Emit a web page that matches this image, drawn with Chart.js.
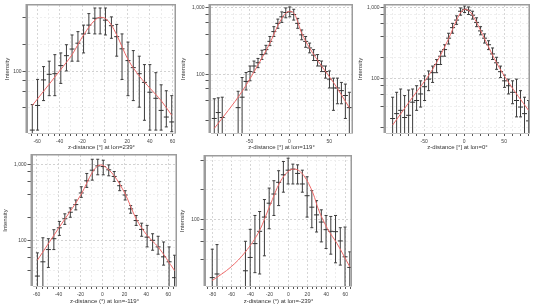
<!DOCTYPE html>
<html>
<head>
<meta charset="utf-8">
<script src="https://cdn.jsdelivr.net/npm/chart.js@4.4.1/dist/chart.umd.min.js"></script>
<style>
  html, body { margin: 0; padding: 0; background: #fff; }
  body { width: 535px; height: 307px; position: relative; overflow: hidden; }
  canvas { position: absolute; }
</style>
</head>
<body>
<canvas id="p1"></canvas>
<canvas id="p2"></canvas>
<canvas id="p3"></canvas>
<canvas id="p4"></canvas>
<canvas id="p5"></canvas>
<script>
// lon=239
const p1X = [-64.3, -59.6, -54.3, -49.3, -44.3, -39, -34, -29, -23.8, -18.8, -14.1, -8.8, -4.1, 0.6, 5.9, 10.6, 15.3, 20.6, 25.3, 30.6, 35.2, 40, 45.3, 50, 54.6, 59.4];
const p1Y = [22.3, 42, 81, 93.5, 95, 117, 151, 179, 208, 264, 331, 395, 399, 376, 326, 246, 180, 133, 111, 95, 76, 59, 50.5, 37, 31.2, 27.5];
const p1Hi = [43, 82, 114, 131, 155, 162, 200, 257, 280, 331, 445, 514, 514, 514, 409, 337, 264, 214, 172, 149, 120, 120, 97.5, 71.4, 61.3, 54];
const p1Lo = [10, 22.3, 47.6, 54, 54, 74, 102, 131, 131, 162, 268, 264, 264, 257, 236, 149, 82, 54, 47.6, 40.2, 28.7, 22.3, 22.3, 22.3, 24.2, 21.4];
const p1FitX = [-64.3, -49.3, -39, -29, -18.8, -8.8, -4.1, 0.6, 5.9, 10.6, 20.6, 30.6, 40, 50, 59.4];
const p1FitY = [42, 72.6, 106, 155, 257, 376, 404, 392, 331, 257, 137, 89.6, 65.6, 47.6, 32.6];

// lon=119
const p2X = [-94.6, -89.6, -84.6, -64.6, -59.6, -54.6, -49.6, -44.6, -39.6, -34.6, -29.6, -24.6, -19.6, -14.6, -9.6, -4.6, 0.4, 5.4, 10.4, 15.4, 20.4, 25.4, 30.4, 35.4, 40.4, 45.4, 50.4, 55.4, 60.4, 65.4, 70.4, 75.4];
const p2Y = [21.5, 26.4, 22.2, 31.3, 45, 77.8, 109.6, 133, 149, 198, 235, 313, 440, 585, 735, 853, 872, 796, 585, 393, 313, 249, 194, 161, 133, 109.6, 84.3, 62, 62, 56.5, 47.7, 31.3];
const p2Hi = [42.6, 44, 45, 55.3, 89.2, 106, 133, 158, 173, 230, 273, 371, 522, 679, 872, 1000, 1035, 955, 695, 466, 371, 295, 235, 198, 158, 133, 112, 87.3, 87.3, 75.2, 71, 53.4];
const p2Lo = [10, 10, 10, 10, 10, 57.8, 79.6, 106, 125.6, 167, 203, 270, 371, 493, 605, 710, 735, 656, 493, 331, 255, 210, 161, 133, 109.6, 87.3, 62, 28.5, 35.8, 35.8, 21.5, 10];
const p2FitX = [-94.6, -59.6, -39.6, -24.6, -14.6, -6.3, 0.4, 7.1, 15.4, 25.4, 40.4, 55.4, 75.4];
const p2FitY = [15.2, 55, 138, 295, 541, 796, 892, 778, 416, 249, 133, 75.2, 31.3];

// lon=0
const p3X = [-89.5, -84.5, -79.5, -74.5, -69.5, -64.5, -59.5, -54.5, -49.5, -44.5, -39.5, -34.5, -29.5, -24.5, -19.5, -14.5, -9.5, -4.5, 0.5, 5.5, 10.5, 15.5, 20.5, 25.5, 30.5, 35.5, 40.5, 45.5, 50.5, 55.5, 60.5, 65.5, 70.5, 75.5, 80.5];
const p3Y = [27.1, 31.8, 35.4, 28, 30.1, 46.2, 48.8, 60.4, 76.5, 98, 121, 158, 207, 257, 373, 526, 673, 898, 958, 928, 790, 624, 473, 373, 301, 223, 167, 125, 92.7, 79, 63.8, 48.8, 39.4, 31.8, 25.1];
const p3Hi = [54.3, 63.8, 71, 57.3, 68.7, 71, 79, 92.7, 109, 128, 150, 186, 243, 301, 438, 605, 773, 1000, 1066, 1033, 898, 725, 543, 429, 343, 271, 200, 150, 112, 98, 92.7, 98, 67.3, 54.3, 48.8];
const p3Lo = [10, 10, 10, 10, 10, 10, 35.4, 39.4, 48.8, 67.3, 88, 121, 158, 207, 308, 438, 585, 790, 861, 807, 695, 543, 416, 318, 257, 186, 135, 103, 74.9, 60.4, 43.9, 28.6, 28.6, 10, 10];
const p3FitX = [-89.5, -64.5, -39.5, -19.5, -9.5, -3.7, 1.4, 7.6, 15.5, 25.5, 40.5, 55.5, 80.5];
const p3FitY = [21.9, 54.3, 135, 366, 673, 879, 958, 879, 624, 366, 167, 88, 35.4];

// lon=-119
const p4X = [-59.3, -54.3, -49.3, -44.3, -39.3, -34.3, -29.3, -24.3, -19.3, -14.3, -9.3, -4.3, 0.7, 5.7, 10.7, 15.7, 20.7, 25.7, 30.7, 35.7, 40.7, 45.7, 50.7, 55.7, 60.7, 65.7];
const p4Y = [33.9, 52.2, 75.6, 105, 146, 192, 234, 295, 419, 606, 835, 951, 932, 844, 691, 522, 394, 259, 182, 139, 110, 100, 81.9, 60.7, 52.2, 32.3];
const p4Hi = [68.4, 108, 105, 138, 177, 223, 267, 339, 506, 756, 1162, 1162, 1128, 980, 802, 594, 449, 286, 212, 168, 157, 122, 113, 95.1, 81.9, 63.7];
const p4Lo = [10, 10, 44, 75.6, 116, 162, 201, 251, 367, 496, 618, 726, 726, 704, 594, 449, 339, 227, 157, 113, 81.9, 74.1, 65.7, 47.2, 10, 10];
const p4FitX = [-59.3, -39.3, -19.3, -9.3, -4.3, -1.5, 2.5, 10.7, 20.7, 30.7, 40.7, 50.7, 65.7];
const p4FitY = [54.8, 149, 406, 779, 951, 980, 923, 704, 406, 192, 116, 81.9, 40];

// lon=-239
const p5X = [-80.3, -75.3, -45.3, -40.3, -35.3, -30.3, -25.3, -20.3, -15.3, -10.3, -5.3, -0.3, 4.7, 9.7, 14.7, 19.7, 24.7, 29.7, 34.7, 39.7, 44.7, 49.7, 54.7, 59.7, 64.7];
const p5Y = [26, 28.3, 30.5, 41.6, 57.4, 76.4, 106.4, 147, 182, 239, 285, 317, 325, 294, 230, 175, 134, 112, 94.8, 79.4, 76.4, 75.8, 61.1, 42.2, 33];
const p5Hi = [50.4, 56.1, 60.6, 80, 110.5, 121.2, 160, 209, 248, 313, 388, 419, 365, 359, 317, 272, 197, 156, 126, 110.5, 108, 110.5, 83.1, 84.4, 47.4];
const p5Lo = [10, 10, 10, 10, 29.2, 28.3, 43.2, 81.2, 110.5, 139, 190, 230, 230, 230, 190, 106.4, 83.1, 75.2, 59.7, 51.2, 44.9, 36.7, 34.8, 10, 10];
const p5FitX = [-80.3, -60.3, -45.3, -30.3, -19.5, -9, 1.5, 6.7, 16.3, 26.3, 31.4, 41.2, 51.3, 64.7];
const p5FitY = [24.3, 33.5, 47.4, 78.2, 139, 239, 317, 325, 279, 182, 129, 81.2, 57.4, 33.5];

const yTickValues = [10, 20, 40, 60, 80, 100, 200, 400, 600, 800, 1000, 2000];

Chart.defaults.font.family = "'Liberation Sans', Arial, sans-serif";

// vertical error bars with caps, drawn under the fit line
const errorBars = {
  id: 'errorBars',
  beforeDatasetsDraw(chart) {
    const { ctx, chartArea: a, scales: { x, y } } = chart;
    ctx.save();
    ctx.beginPath();
    ctx.rect(a.left, a.top, a.right - a.left, a.bottom - a.top);
    ctx.clip();
    ctx.strokeStyle = '#3c3c3c';
    ctx.lineWidth = 1;
    chart.data.datasets.forEach((ds) => {
      if (!ds.errHi) return;
      ds.data.forEach((pt, i) => {
        const px = x.getPixelForValue(pt.x);
        const top = y.getPixelForValue(ds.errHi[i]);
        const bot = y.getPixelForValue(ds.errLo[i]);
        ctx.beginPath();
        ctx.moveTo(px, top);
        ctx.lineTo(px, bot);
        ctx.moveTo(px - 1.5, top);
        ctx.lineTo(px + 1.5, top);
        ctx.moveTo(px - 1.5, bot);
        ctx.lineTo(px + 1.5, bot);
        ctx.stroke();
      });
    });
    ctx.restore();
  },
};

// grey frame: thick left axis bar, top and right borders
const frame = {
  id: 'frame',
  afterDraw(chart) {
    const { ctx, chartArea: a } = chart;
    ctx.save();
    ctx.fillStyle = '#9c9c9c';
    ctx.fillRect(a.left - 2.5, a.top - 1, 2.5, a.bottom - a.top + 1);
    ctx.fillRect(a.left, a.top - 1, a.right - a.left + 1, 1.5);
    ctx.fillRect(a.right - 0.5, a.top - 1, 1.5, a.bottom - a.top + 1);
    ctx.restore();
  },
};

function makePanel(p) {
  const canvas = document.getElementById(p.id);
  const [l, t, r, b] = p.area;
  const left = Math.floor(p.titleX - 4);
  const top = Math.max(0, t - 4);
  const width = r + 4 - left;
  const height = b + 20 - top;
  canvas.width = width;
  canvas.height = height;
  canvas.style.left = left + 'px';
  canvas.style.top = top + 'px';
  canvas.style.width = width + 'px';
  canvas.style.height = height + 'px';

  const points = p.xs.map((x, i) => ({ x, y: p.ys[i] }));
  const fit = p.fitX.map((x, i) => ({ x, y: p.fitY[i] }));

  new Chart(canvas.getContext('2d'), {
    type: 'scatter',
    data: {
      datasets: [
        {
          data: fit,
          showLine: true,
          borderColor: '#ee6a6a',
          borderWidth: 1,
          pointRadius: 0,
          cubicInterpolationMode: 'monotone',
          order: 0,
        },
        {
          data: points,
          errHi: p.hi,
          errLo: p.lo,
          pointStyle: 'line',
          pointRadius: 2.5,
          borderColor: '#333',
          pointBorderWidth: 1,
          order: 1,
        },
      ],
    },
    options: {
      responsive: false,
      animation: false,
      events: [],
      layout: { padding: { left: 0, top: t - top, right: 4, bottom: 0 } },
      plugins: { legend: { display: false }, tooltip: { enabled: false } },
      scales: {
        x: {
          type: 'linear',
          min: p.xRange[0],
          max: p.xRange[1],
          afterBuildTicks: (s) => {
            const ticks = [];
            for (let v = Math.ceil(s.min / p.xStep) * p.xStep; v <= s.max; v += p.xStep) ticks.push({ value: v });
            s.ticks = ticks;
          },
          afterFit: (s) => { s.height = 20; },
          grid: {
            color: (c) => {
              const v = c.tick ? c.tick.value : 0;
              if (v % p.xLabel === 0) return '#d6d6d6';
              return v % 10 === 0 ? '#ececec' : 'rgba(0,0,0,0)';
            },
            tickColor: '#555',
            tickLength: 3,
            tickWidth: 1,
            lineWidth: 1,
          },
          border: { display: true, color: '#c4c4c4', width: 1, dash: [2, 2] },
          ticks: {
            autoSkip: false,
            maxRotation: 0,
            padding: 3,
            color: '#444',
            font: { size: 5 },
            callback: (v) => (v % p.xLabel === 0 ? String(v) : ''),
          },
          title: {
            display: true,
            text: p.xTitle,
            color: '#333',
            font: { size: 6 },
            padding: { top: 0, bottom: p.titlePad },
          },
        },
        y: {
          type: 'logarithmic',
          min: p.yRange[0],
          max: p.yRange[1],
          afterBuildTicks: (s) => {
            s.ticks = yTickValues.filter((v) => v >= s.min && v <= s.max).map((v) => ({ value: v }));
          },
          afterFit: (s) => { s.width = l - left; },
          grid: {
            color: (c) => {
              const v = c.tick ? c.tick.value : 0;
              return v === 100 || v === 1000 ? '#d2d2d2' : '#efefef';
            },
            tickColor: '#555',
            tickLength: 5.5,
            tickWidth: 1,
            lineWidth: 1,
          },
          border: { display: false, dash: [2, 2] },
          ticks: {
            autoSkip: false,
            padding: 1,
            color: '#444',
            font: { size: 5 },
            callback: (v) => (v === 100 ? '100' : v === 1000 ? '1,000' : ''),
          },
          title: {
            display: true,
            text: 'Intensity',
            color: '#333',
            font: { size: 6 },
            padding: { top: p.titleX - left - 3.6, bottom: 0 },
          },
        },
      },
    },
    plugins: [errorBars, frame],
  });
}

const panels = [
  { id: 'p1', area: [28, 3, 176, 133], titleX: 7, xRange: [-68.1, 62.3], yRange: [20.7, 555], xStep: 5, xLabel: 20, titlePad: 1.7,
    xTitle: 'z-distance [°] at lon=239°', xs: p1X, ys: p1Y, hi: p1Hi, lo: p1Lo, fitX: p1FitX, fitY: p1FitY },
  { id: 'p2', area: [211, 3, 353, 133], titleX: 183, xRange: [-98.75, 78.75], yRange: [12.97, 1108], xStep: 10, xLabel: 50, titlePad: 1.7,
    xTitle: 'z-distance [°] at lon=119°', xs: p2X, ys: p2Y, hi: p2Hi, lo: p2Lo, fitX: p2FitX, fitY: p2FitY },
  { id: 'p3', area: [386, 3, 530, 133], titleX: 360.7, xRange: [-97.8, 81.1], yRange: [16.9, 1101], xStep: 10, xLabel: 50, titlePad: 1.7,
    xTitle: 'z-distance [°] at lon=0°', xs: p3X, ys: p3Y, hi: p3Hi, lo: p3Lo, fitX: p3FitX, fitY: p3FitY },
  { id: 'p4', area: [33, 154, 177, 286], titleX: 5.7, xRange: [-63.3, 67.0], yRange: [25.1, 1322], xStep: 5, xLabel: 20, titlePad: 1,
    xTitle: 'z-distance (°) at lon=-119°', xs: p4X, ys: p4Y, hi: p4Hi, lo: p4Lo, fitX: p4FitX, fitY: p4FitY },
  { id: 'p5', area: [206, 155, 352, 286], titleX: 182.5, xRange: [-86.9, 66.0], yRange: [21.4, 441], xStep: 5, xLabel: 20, titlePad: 1,
    xTitle: 'z-distance (°) at lon=-239°', xs: p5X, ys: p5Y, hi: p5Hi, lo: p5Lo, fitX: p5FitX, fitY: p5FitY },
];

panels.forEach(makePanel);
</script>
</body>
</html>
